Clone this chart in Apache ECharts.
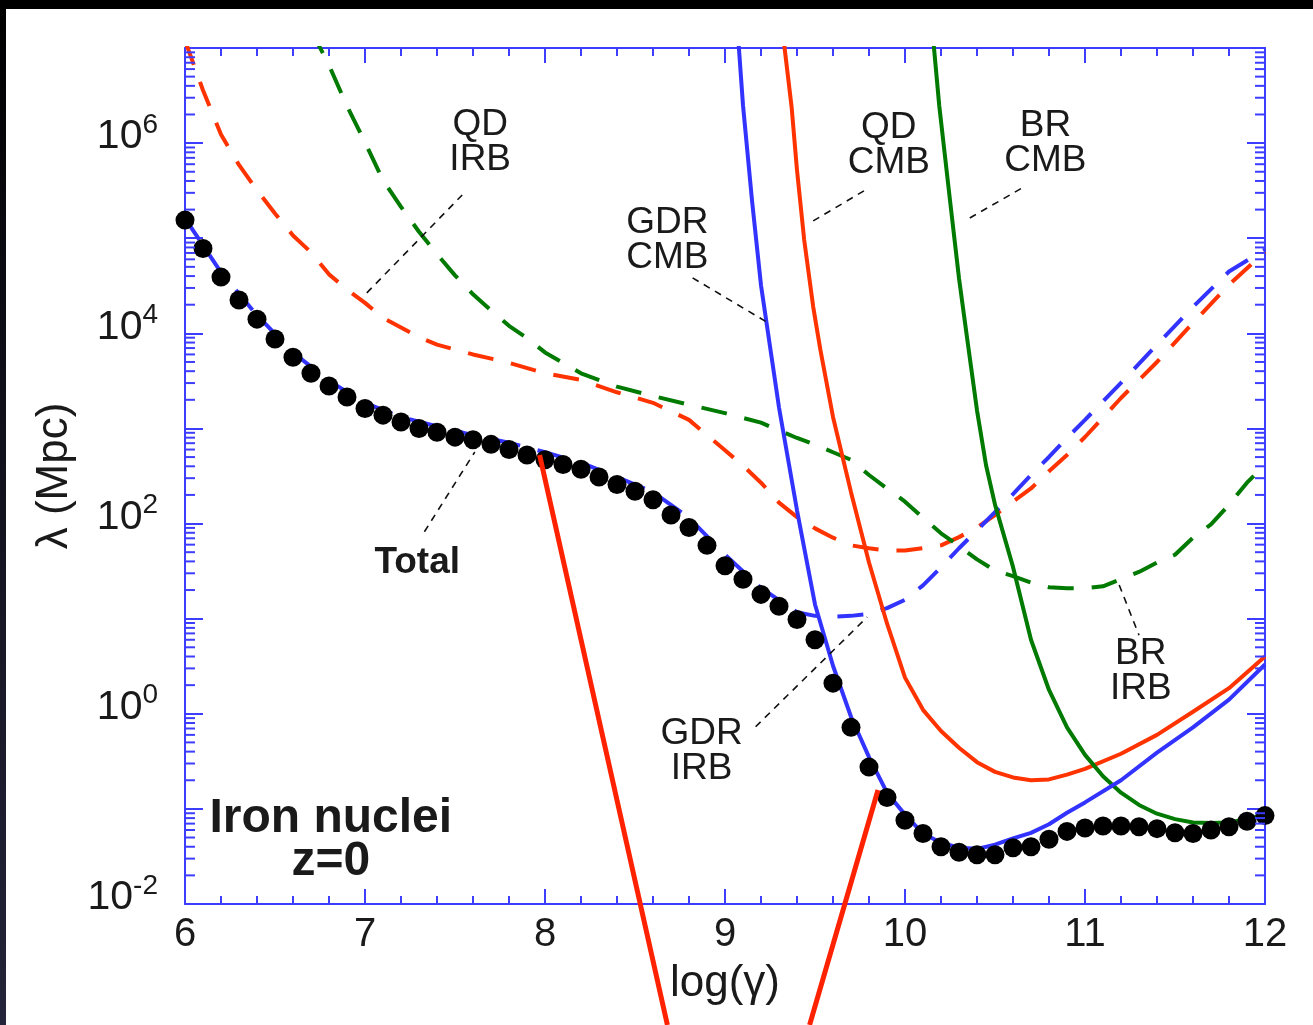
<!DOCTYPE html>
<html lang="en">
<head>
<meta charset="UTF-8">
<title>Iron nuclei - energy loss lengths</title>
<style>
    html, body {
        margin: 0;
        padding: 0;
    }
    body {
        width: 1313px;
        height: 1025px;
        position: relative;
        overflow: hidden;
        background: linear-gradient(to bottom, #000 0%, #0e0e18 35%, #24243a 100%);
    }
    #chart-box {
        position: absolute;
        left: 6px;
        top: 9px;
        width: 1307px;
        height: 1016px;
        background: #fff;
    }
</style>
</head>
<body>
<div id="chart-box"></div>
<script src="https://cdn.jsdelivr.net/npm/echarts/dist/echarts.min.js"></script>
<script>
// log(gamma) -> lambda (Mpc)
var total = [
    [6.0, 1.55e5], [6.1, 7.8e4], [6.2, 3.9e4], [6.3, 2.24e4], [6.4, 1.41e4],
    [6.5, 8.7e3], [6.6, 5.6e3], [6.7, 3.8e3], [6.8, 2.8e3], [6.9, 2.14e3],
    [7.0, 1.62e3], [7.1, 1.38e3], [7.2, 1.17e3], [7.3, 1.0e3], [7.4, 910],
    [7.5, 810], [7.6, 760], [7.7, 680], [7.8, 600], [7.9, 525],
    [8.0, 468], [8.1, 417], [8.2, 372], [8.3, 309], [8.4, 257],
    [8.5, 219], [8.6, 178], [8.7, 123], [8.8, 91], [8.9, 59],
    [9.0, 36], [9.1, 26], [9.2, 18], [9.3, 13.5], [9.4, 9.8],
    [9.5, 6.0], [9.6, 2.1], [9.7, 0.72], [9.8, 0.275], [9.9, 0.132],
    [10.0, 0.076], [10.1, 0.055], [10.2, 0.040], [10.3, 0.035], [10.4, 0.033],
    [10.5, 0.033], [10.6, 0.039], [10.7, 0.040], [10.8, 0.048], [10.9, 0.058],
    [11.0, 0.063], [11.1, 0.066], [11.2, 0.066], [11.3, 0.065], [11.4, 0.062],
    [11.5, 0.056], [11.6, 0.055], [11.7, 0.060], [11.8, 0.065], [11.9, 0.074],
    [12.0, 0.085]
];

// GDR on IRB (blue dashed)
var gdrIrb = [
    [6.0, 1.62e5], [6.2, 4.37e4], [6.4, 1.55e4], [6.6, 6.3e3], [6.8, 3.16e3],
    [7.0, 1.86e3], [7.2, 1.32e3], [7.4, 1.05e3], [7.6, 850], [7.8, 708],
    [8.0, 562], [8.2, 437], [8.4, 309], [8.6, 214], [8.8, 115],
    [9.0, 47], [9.2, 21], [9.4, 11.7], [9.5, 10.7], [9.6, 10.5],
    [9.7, 10.7], [9.8, 11.2], [9.9, 12.9], [10.0, 15.8], [10.1, 22.4],
    [10.2, 34.7], [10.3, 55], [10.4, 85], [10.5, 132], [10.6, 204],
    [10.7, 324], [10.8, 501], [10.9, 794], [11.0, 1.23e3], [11.2, 3.02e3],
    [11.4, 7.6e3], [11.6, 1.9e4], [11.8, 4.47e4], [12.0, 7.6e4]
];

// QD on IRB (red dashed)
var qdIrb = [
    [6.0, 1.2e7], [6.1, 3.6e6], [6.2, 1.23e6], [6.3, 5.9e5], [6.4, 3.2e5],
    [6.5, 1.82e5], [6.6, 1.07e5], [6.7, 7.1e4], [6.8, 4.17e4], [6.9, 2.88e4],
    [7.0, 2.09e4], [7.1, 1.45e4], [7.2, 1.15e4], [7.3, 9.1e3], [7.4, 7.6e3],
    [7.6, 6.0e3], [7.8, 4.9e3], [8.0, 3.8e3], [8.2, 3.24e3], [8.4, 2.4e3],
    [8.6, 1.86e3], [8.8, 1.23e3], [8.9, 851], [9.0, 589], [9.1, 407],
    [9.2, 269], [9.3, 166], [9.4, 117], [9.5, 89], [9.6, 71],
    [9.7, 59], [9.8, 55], [9.9, 52], [10.0, 52], [10.1, 55],
    [10.2, 59], [10.3, 72], [10.4, 91], [10.5, 123], [10.6, 170],
    [10.7, 234], [10.8, 355], [10.9, 525], [11.0, 813], [11.2, 2.09e3],
    [11.4, 5.0e3], [11.6, 1.29e4], [11.8, 3.24e4], [12.0, 7.2e4]
];

// BR on IRB (green dashed)
var brIrb = [
    [6.7, 1.55e7], [6.8, 6.6e6], [6.9, 2.45e6], [7.0, 1.02e6], [7.1, 4.07e5],
    [7.2, 2.14e5], [7.3, 1.17e5], [7.4, 6.8e4], [7.5, 4.07e4], [7.6, 2.57e4],
    [7.7, 1.74e4], [7.8, 1.2e4], [7.9, 8.9e3], [8.0, 6.3e3], [8.2, 3.8e3],
    [8.4, 2.75e3], [8.6, 2.19e3], [8.8, 1.78e3], [9.0, 1.45e3], [9.2, 1.15e3],
    [9.4, 794], [9.5, 676], [9.6, 562], [9.7, 468], [9.8, 324],
    [9.9, 234], [10.0, 170], [10.1, 115], [10.2, 79], [10.3, 58],
    [10.4, 42], [10.5, 32], [10.6, 28], [10.7, 24], [10.8, 21.4],
    [10.9, 20.9], [11.0, 20.9], [11.1, 21.9], [11.2, 26], [11.3, 31],
    [11.4, 39], [11.5, 47], [11.6, 71], [11.7, 98], [11.8, 158],
    [11.9, 269], [12.0, 417]
];

// GDR on CMB (blue solid)
var gdrCmb = [
    [9.07, 1.55e7], [9.1, 2.5e6], [9.15, 2.5e5], [9.2, 3.2e4], [9.3, 1.66e3],
    [9.4, 138], [9.5, 14.1], [9.6, 3.2], [9.7, 0.93], [9.8, 0.35],
    [9.9, 0.148], [10.0, 0.087], [10.1, 0.055], [10.2, 0.044], [10.3, 0.039],
    [10.4, 0.038], [10.5, 0.042], [10.6, 0.049], [10.7, 0.056], [10.8, 0.069],
    [10.9, 0.091], [11.0, 0.117], [11.2, 0.20], [11.4, 0.39], [11.6, 0.72],
    [11.8, 1.41], [12.0, 3.3]
];

// QD on CMB (red solid)
var qdCmb = [
    [9.32, 1.5e7], [9.37, 2.4e6], [9.4, 5.2e5], [9.44, 9.6e4], [9.49, 1.9e4],
    [9.53, 6.7e3], [9.6, 1.32e3], [9.7, 214], [9.8, 39], [9.9, 8.9],
    [10.0, 2.4], [10.1, 1.1], [10.2, 0.66], [10.3, 0.44], [10.4, 0.31],
    [10.5, 0.245], [10.6, 0.214], [10.7, 0.20], [10.8, 0.204], [10.9, 0.229],
    [11.0, 0.263], [11.2, 0.38], [11.4, 0.60], [11.6, 1.05], [11.8, 1.86],
    [12.0, 4.0]
];

// BR on CMB (green solid)
var brCmb = [
    [10.15, 1.7e7], [10.19, 2.5e6], [10.25, 2.5e5], [10.3, 3.8e4], [10.35, 7.6e3],
    [10.4, 1.55e3], [10.45, 413], [10.5, 158], [10.6, 35], [10.7, 6.0],
    [10.8, 1.78], [10.9, 0.72], [11.0, 0.37], [11.1, 0.22], [11.2, 0.148],
    [11.3, 0.11], [11.4, 0.089], [11.5, 0.078], [11.6, 0.072], [11.7, 0.071],
    [11.8, 0.072], [11.9, 0.078], [12.0, 0.087]
];

// dashed leader lines from the labels to their curves
var leaders = [
    [[7.01, 2.66e4], [7.54, 2.85e5]],
    [[7.33, 82], [7.61, 566]],
    [[8.82, 3.83e4], [9.23, 1.32e4]],
    [[9.49, 1.52e5], [9.79, 3.3e5]],
    [[10.36, 1.63e5], [10.66, 3.46e5]],
    [[9.17, 0.73], [9.79, 10.4]],
    [[11.19, 22.6], [11.30, 6.7]]
];

// the two red pointer strokes running off the bottom
var pointers = [
    [[7.97, 526], [8.68, 5.35e-4]],
    [[9.85, 0.158], [9.47, 5.35e-4]]
];

var noteText = ['QD\nIRB', 'GDR\nCMB', 'QD\nCMB', 'BR\nCMB', 'GDR\nIRB', 'BR\nIRB', 'Total', 'Iron nuclei\nz=0'];
var noteAt = [[7.64, 1.03e6], [8.68, 9.4e4], [9.91, 9.6e5], [10.78, 1.0e6], [8.87, 0.40], [11.31, 2.8], [7.29, 38.6], [6.81, 0.047]];
var noteBold = [false, false, false, false, false, false, true, true];

// minor ticks of the log axis (2..9 per decade)
var yMinor = [];
for (var e = -2; e < 7; e++) {
    for (var k = 2; k < 10; k++) {
        yMinor.push(k * Math.pow(10, e));
    }
}

var FONT = '"Liberation Sans", Arial, Helvetica, sans-serif';
var AXIS_BLUE = '#3d3dff';
var BLUE = '#3333ff';
var RED = '#ff3300';
var GREEN = '#007a00';
var INK = '#1a1a1a';

function curve(data, color, dashed) {
    return {
        type: 'line',
        data: data,
        symbol: 'none',
        showSymbol: false,
        silent: true,
        z: dashed ? 3 : 4,
        lineStyle: {color: color, width: 4, type: dashed ? [26, 18] : 'solid'}
    };
}

var myChart = echarts.init(document.getElementById('chart-box'));

var axisLineStyle = {color: AXIS_BLUE, width: 2};

var series = [
    curve(qdIrb, RED, true),
    curve(brIrb, GREEN, true),
    curve(gdrIrb, BLUE, true),
    curve(qdCmb, RED, false),
    curve(brCmb, GREEN, false),
    curve(gdrCmb, BLUE, false),
    {
        type: 'scatter',
        data: total,
        symbol: 'circle',
        symbolSize: 19,
        itemStyle: {color: '#000', opacity: 1},
        silent: true,
        z: 6
    },
    {
        // minor ticks on both log axes
        type: 'custom',
        data: yMinor.map(function (v) { return [6, v]; }),
        silent: true,
        z: 7,
        renderItem: function (params, api) {
            var v = api.value(1);
            var p = api.coord([6, v]);
            var q = api.coord([12, v]);
            return {
                type: 'group',
                children: [
                    {type: 'line', shape: {x1: p[0], y1: p[1], x2: p[0] + 10, y2: p[1]}, style: {stroke: AXIS_BLUE, lineWidth: 2}},
                    {type: 'line', shape: {x1: q[0], y1: q[1], x2: q[0] - 10, y2: q[1]}, style: {stroke: AXIS_BLUE, lineWidth: 2}}
                ]
            };
        }
    },
    {
        // text annotations
        type: 'custom',
        data: noteAt,
        silent: true,
        z: 9,
        renderItem: function (params, api) {
            var i = params.dataIndex;
            var p = api.coord([api.value(0), api.value(1)]);
            return {
                type: 'text',
                x: p[0],
                y: p[1],
                style: {
                    text: noteText[i],
                    fill: INK,
                    fontFamily: FONT,
                    fontSize: i === 7 ? 48 : 37,
                    fontWeight: noteBold[i] ? 'bold' : 'normal',
                    lineHeight: i === 7 ? 43 : 35,
                    align: 'center',
                    verticalAlign: 'middle'
                }
            };
        }
    }
];

leaders.forEach(function (l) {
    series.push({
        type: 'line',
        data: l,
        symbol: 'none',
        silent: true,
        z: 5,
        lineStyle: {color: '#111', width: 1.6, type: [7, 6]}
    });
});

pointers.forEach(function (p) {
    series.push({
        type: 'line',
        data: p,
        symbol: 'none',
        silent: true,
        clip: false,
        z: 10,
        lineStyle: {color: '#ff2200', width: 5}
    });
});

var option = {
    animation: false,
    backgroundColor: '#fff',
    grid: {left: 179, top: 39, width: 1080, height: 856, containLabel: false},
    xAxis: [{
        type: 'value',
        min: 6,
        max: 12,
        interval: 1,
        name: 'log(γ)',
        nameLocation: 'middle',
        nameGap: 58,
        nameTextStyle: {fontSize: 44, fontFamily: FONT, color: INK},
        axisLine: {show: true, onZero: false, lineStyle: axisLineStyle},
        axisTick: {show: true, inside: true, length: 15, lineStyle: axisLineStyle},
        minorTick: {show: true, splitNumber: 5, length: 8, lineStyle: axisLineStyle},
        axisLabel: {fontSize: 40, fontFamily: FONT, color: INK, margin: 11},
        splitLine: {show: false},
        minorSplitLine: {show: false}
    }, {
        type: 'value',
        position: 'top',
        min: 6,
        max: 12,
        interval: 1,
        axisLine: {show: true, onZero: false, lineStyle: axisLineStyle},
        axisTick: {show: true, inside: true, length: 15, lineStyle: axisLineStyle},
        minorTick: {show: true, splitNumber: 5, length: 8, lineStyle: axisLineStyle},
        axisLabel: {show: false},
        splitLine: {show: false}
    }],
    yAxis: [{
        type: 'log',
        logBase: 10,
        min: 0.01,
        max: 1e7,
        splitNumber: 9,
        name: 'λ (Mpc)',
        nameLocation: 'middle',
        nameGap: 105,
        nameRotate: 90,
        nameTextStyle: {fontSize: 44, fontFamily: FONT, color: INK},
        axisLine: {show: true, onZero: false, lineStyle: axisLineStyle},
        axisTick: {show: true, inside: true, length: 18, lineStyle: axisLineStyle},
        minorTick: {show: false},
        axisLabel: {
            margin: 27,
            padding: [0, 0, 12, 0],
            formatter: function (v) {
                var ex = Math.round(Math.log10(v));
                if (ex % 2 !== 0) {
                    return '';
                }
                return '{b|10}{s|' + ex + '}';
            },
            rich: {
                b: {fontSize: 41, fontFamily: FONT, color: INK, lineHeight: 52},
                s: {fontSize: 28, fontFamily: FONT, color: INK, lineHeight: 24, verticalAlign: 'top'}
            }
        },
        splitLine: {show: false}
    }, {
        type: 'log',
        logBase: 10,
        min: 0.01,
        max: 1e7,
        splitNumber: 9,
        position: 'right',
        axisLine: {show: true, onZero: false, lineStyle: axisLineStyle},
        axisTick: {show: true, inside: true, length: 18, lineStyle: axisLineStyle},
        axisLabel: {show: false},
        splitLine: {show: false}
    }],
    series: series
};

myChart.setOption(option);
</script>
</body>
</html>
